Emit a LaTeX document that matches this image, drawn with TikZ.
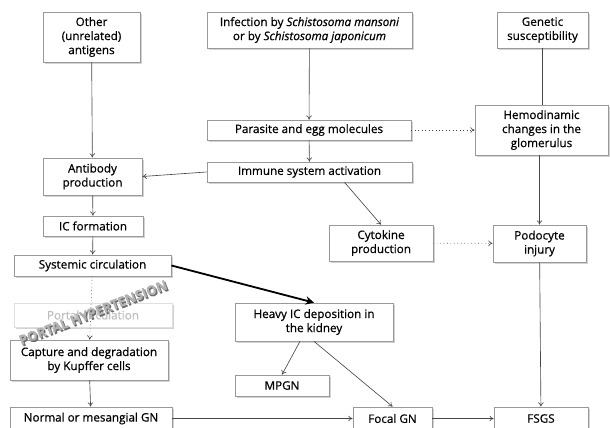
\documentclass[tikz,border=0pt]{standalone}
\usepackage{fontspec}
\setmainfont{Open Sans}[FakeBold=0.6]
\usetikzlibrary{arrows.meta,shadows}

\tikzset{
  box/.style={draw=gray!80, fill=white, line width=0.5pt, align=center, inner sep=1pt,
    font={\fontsize{8.3}{10}\selectfont\addfontfeatures{FakeBold=0.6}},
    drop shadow={shadow xshift=1.2pt, shadow yshift=-1.2pt, opacity=0.35, fill=gray}},
  link/.style={draw=gray!55!black, line width=0.45pt, -{To[length=3pt,width=4pt]}},
  dotlink/.style={link, dotted},
}

\begin{document}
\begin{tikzpicture}[x=0.025cm, y=-0.025cm]
  \useasboundingbox (0,0) rectangle (610,427);
  \clip (0,0) rectangle (610,427);

  % top row
  \node[box, minimum width=2.43cm, minimum height=1.25cm] (other) at (91.5,37) {Other\\(unrelated)\\antigens};
  \node[box, minimum width=5.13cm, minimum height=0.9cm] (infect) at (309.5,30) {Infection by \textit{Schistosoma mansoni}\\or by \textit{Schistosoma japonicum}};
  \node[box, minimum width=2.28cm, minimum height=0.9cm] (genetic) at (542.5,30) {Genetic\\susceptibility};

  % middle
  \node[box, minimum width=5.1cm, minimum height=0.5cm] (parasite) at (309,130) {Parasite and egg molecules};
  \node[box, minimum width=3.33cm, minimum height=1.25cm] (hemo) at (541.5,130) {Hemodinamic\\changes in the\\glomerulus};
  \node[box, minimum width=5.13cm, minimum height=0.5cm] (immune) at (309.5,172) {Immune system activation};
  \node[box, minimum width=2.48cm, minimum height=0.93cm] (antibody) at (92.5,176.5) {Antibody\\production};
  \node[box, minimum width=2.5cm, minimum height=0.5cm] (icform) at (93,226) {IC formation};
  \node[box, minimum width=2.6cm, minimum height=0.9cm] (cytokine) at (381,243) {Cytokine\\production};
  \node[box, minimum width=2.33cm, minimum height=0.93cm] (podocyte) at (539.5,243.5) {Podocyte\\injury};
  \node[box, minimum width=3.93cm, minimum height=0.53cm] (systemic) at (92.5,265.5) {Systemic circulation};

  % lower part
  \node[box, draw=gray!25, text=gray!50, drop shadow={opacity=0}, minimum width=3.95cm, minimum height=0.6cm] (portal) at (93,315) {Portal circulation};
  \node[box, minimum width=3.95cm, minimum height=0.95cm] (heavy) at (314,322) {Heavy IC deposition in\\the kidney};
  \node[box, minimum width=3.95cm, minimum height=1cm] (capture) at (89,360) {Capture and degradation\\by Kupffer cells};
  \node[box, minimum width=2.35cm, minimum height=0.53cm] (mpgn) at (282,385.5) {MPGN};
  \node[box, minimum width=4.05cm, minimum height=0.58cm] (normal) at (91,418.5) {Normal or mesangial GN};
  \node[box, minimum width=1.98cm, minimum height=0.58cm] (focal) at (392.5,418.5) {Focal GN};
  \node[box, minimum width=2.35cm, minimum height=0.58cm] (fsgs) at (541,418.5) {FSGS};

  % portal hypertension label
  \node[rotate=21, font={\fontsize{9.5}{10}\selectfont\bfseries}, text=gray!85!black] (porthyp2) at (94.5,314) {PORTAL HYPERTENSION};
  \node[rotate=21, font={\fontsize{9.5}{10}\selectfont\bfseries}, text=gray!60] (porthyp) at (93,312.5) {PORTAL HYPERTENSION};

  % connectors
  \draw[link] (other) -- (antibody);
  \draw[link] (infect) -- (parasite);
  \draw[link] (parasite) -- (immune);
  \draw[dotlink] (parasite) -- (hemo);
  \draw[draw=gray!55!black, line width=0.45pt] (genetic) -- (genetic |- hemo.north);
  \draw[link] (hemo.south -| podocyte) -- (podocyte);
  \draw[link] (immune.west) -- (antibody.east);
  \draw[link] (antibody) -- (icform);
  \draw[link] (icform) -- (systemic);
  \draw[link] (immune.south west) ++(138,0) coordinate (immout) -- (cytokine.north);
  \draw[dotlink] (cytokine) -- (podocyte);
  \draw[line width=1.3pt, -{Stealth[length=6pt,width=6pt]}] (systemic.east) -- (heavy.north);
  \draw[dotlink] (systemic) -- (capture);
  \draw[link] (capture) -- (normal);
  \draw[link] (heavy.south) ++(-14,0) coordinate (hvyl) -- (mpgn.north);
  \draw[link] (heavy.south) -- (focal.north);
  \draw[link] (normal) -- (focal);
  \draw[link] (focal) -- (fsgs);
  \draw[link] (podocyte) -- (fsgs);
\end{tikzpicture}
\end{document}
